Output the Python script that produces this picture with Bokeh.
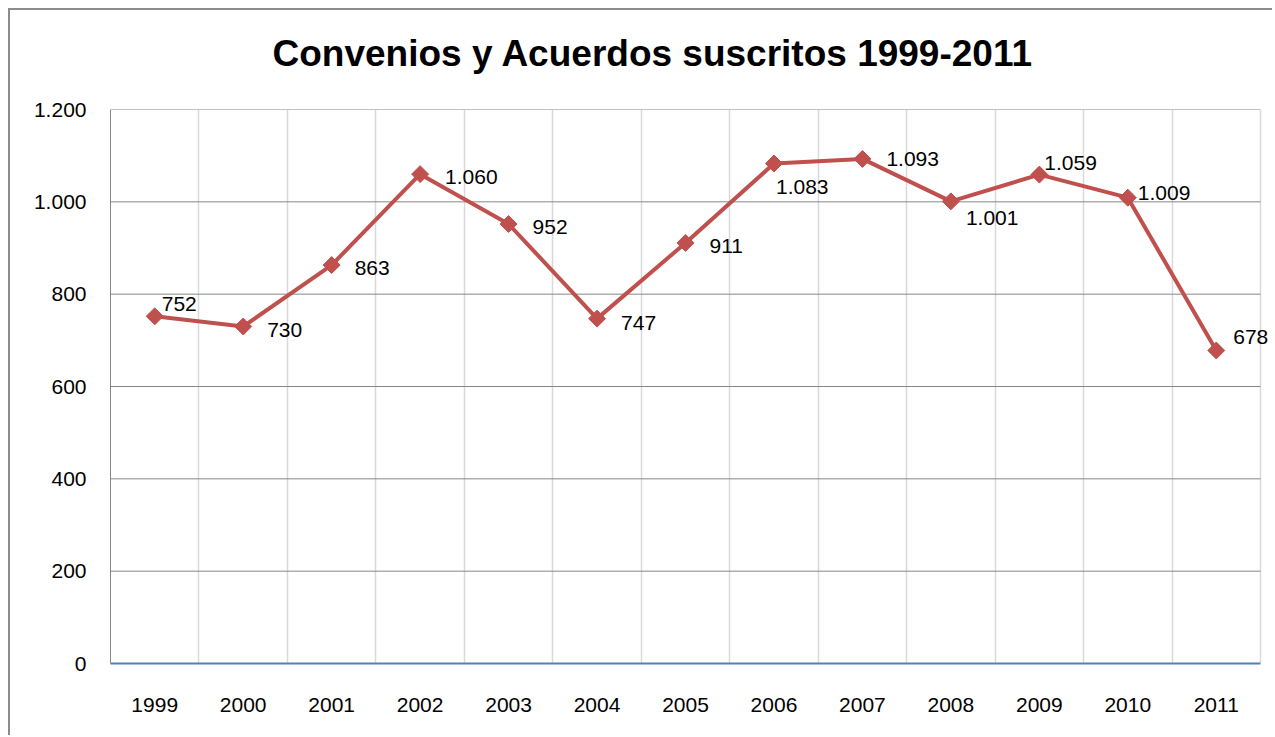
import numpy as np
from bokeh.plotting import figure
from bokeh.models import ColumnDataSource, Range1d, FixedTicker, Title, LabelSet
from bokeh.embed import file_html
from bokeh.resources import INLINE
from bokeh.core.properties import value

# ---- data ----
years = ["1999", "2000", "2001", "2002", "2003", "2004", "2005",
         "2006", "2007", "2008", "2009", "2010", "2011"]
convenios = [752, 730, 863, 1060, 952, 747, 911, 1083, 1093, 1001, 1059, 1009, 678]
y_ticks = [0, 200, 400, 600, 800, 1000, 1200]
y_tick_labels = ["0", "200", "400", "600", "800", "1.000", "1.200"]
title_text = "Convenios y Acuerdos suscritos 1999-2011"

# label placement (screen px, style only; dy positive = down)
label_dx = [7, 24, 23, 25, 24, 24, 24, 2, 24, 15, 5, 10, 17]
label_dy = [-12, 4, 3, 3, 3, 4, 3, 23, 0, 17, -12, -5, -13]

RED = "#C0504D"
FONT = "Liberation Sans"

n = len(years)
xs = [i + 0.5 for i in range(n)]
labels = [f"{v:,}".replace(",", ".") for v in convenios]

src = ColumnDataSource(dict(x=xs, y=convenios, lab=labels, dx=label_dx,
                            dy=[-d for d in label_dy]))

# plot area 1150 px wide for the 13 categories, plus 14 px room for the last label
AREA_W, EXTRA = 1150, 14
x_end = n * (AREA_W + EXTRA) / AREA_W

p = figure(width=1264, height=727, output_backend="svg", toolbar_location=None,
           x_range=Range1d(0, x_end), y_range=Range1d(0, 1200),
           min_border_left=100, min_border_right=0, min_border_top=99,
           min_border_bottom=74, outline_line_color=None)
p.styles = {"border-left": "2px solid #8c8c8c", "border-top": "2px solid #8c8c8c",
            "margin-left": "8px", "margin-top": "8px"}

# spacer between plot area and title, then the title itself
p.title = None
p.add_layout(Title(text=" ", text_font_size="1px", standoff=33), "above")
p.add_layout(Title(text=title_text, align="left", text_font=FONT,
                   text_font_size="37px", text_font_style="bold", text_color="black",
                   standoff=0, offset=162), "above")

# horizontal grid lines (drawn only across the category area)
p.ygrid.grid_line_color = None
p.segment(x0=[0] * (len(y_ticks) - 1), x1=[n] * (len(y_ticks) - 1),
          y0=y_ticks[1:], y1=y_ticks[1:], line_color="#868686", line_width=1)

# vertical grid lines at category boundaries
p.xgrid.ticker = FixedTicker(ticks=list(range(1, n + 1)))
p.xgrid.grid_line_color = "#d9d9d9"
p.xgrid.grid_line_width = 1.5

# x axis
p.xaxis.ticker = FixedTicker(ticks=xs)
p.xaxis.bounds = (0, n)
p.xaxis.major_label_overrides = {x: y for x, y in zip(xs, years)}
p.xaxis.axis_line_color = "#4F81BD"
p.xaxis.axis_line_width = 2
p.xaxis.major_tick_line_color = None
p.xaxis.minor_tick_line_color = None
p.xaxis.major_label_standoff = 28
p.xaxis.major_label_text_font = FONT
p.xaxis.major_label_text_font_size = "21px"
p.xaxis.major_label_text_color = "black"

# y axis
p.yaxis.ticker = FixedTicker(ticks=y_ticks)
p.yaxis.major_label_overrides = {t: l for t, l in zip(y_ticks, y_tick_labels)}
p.yaxis.axis_line_color = "#868686"
p.yaxis.axis_line_width = 1
p.yaxis.major_tick_line_color = None
p.yaxis.minor_tick_line_color = None
p.yaxis.major_label_standoff = 18
p.yaxis.major_label_text_font = FONT
p.yaxis.major_label_text_font_size = "21px"
p.yaxis.major_label_text_color = "black"

p.line("x", "y", source=src, line_color=RED, line_width=4)
p.scatter("x", "y", source=src, marker="square", size=12, angle=np.pi / 4,
          fill_color=RED, line_color=RED)
p.add_layout(LabelSet(x="x", y="y", text="lab", source=src,
                      x_offset="dx", y_offset="dy",
                      text_font=value(FONT), text_font_size="21px", text_color="black",
                      text_align="left", text_baseline="middle"))

open("out.html", "w").write(file_html(p, INLINE))
